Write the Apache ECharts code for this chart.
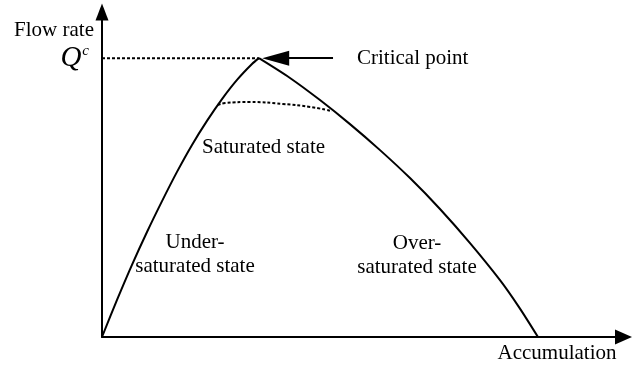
<!DOCTYPE html>
<html>
<head>
<meta charset="utf-8">
<script src="https://cdn.jsdelivr.net/npm/echarts@6/dist/echarts.min.js"></script>
<style>
  html, body { margin: 0; padding: 0; background: #fff; }
  #main { width: 638px; height: 365px; }
</style>
</head>
<body>
<div id="main"></div>
<script>
// flow rate vs accumulation (arbitrary units)
const underX = [0, 2.88, 5.75, 8.63, 11.51, 14.38, 17.26, 20.13, 23.01, 25.89, 28.76, 30.1]
const underY = [0, 11.4, 22.2, 32.3, 41.8, 50.8, 59.1, 66.5, 73.2, 79.1, 84.0, 85.8]
const overX = [30.1, 36.05, 41.8, 47.55, 53.31, 59.06, 64.81, 70.57, 76.32, 79.96, 83.6]
const overY = [85.8, 79.7, 72.9, 65.5, 57.5, 48.9, 39.4, 28.9, 17.5, 9.2, 0]
// dotted "saturated" boundary
const satX = [22.2, 23.6, 28.4, 34.7, 39.9, 44.1]
const satY = [71.4, 72.0, 72.3, 71.7, 70.8, 69.5]
// critical point
const critX = 30.1
const critY = 85.8
const arrowFromX = 44.3

const font = "'Liberation Serif', 'Times New Roman', serif"
const zip = (xs, ys) => xs.map((x, i) => [x, ys[i]])

const chart = echarts.init(document.getElementById('main'))
const option = {
  animation: false,
  grid: { left: 102, right: 14.5, top: 12, bottom: 28 },
  xAxis: {
    type: 'value', min: 0, max: 100,
    name: 'Accumulation',
    nameLocation: 'end',
    nameGap: -7,
    nameTextStyle: { fontFamily: font, fontSize: 21, color: '#000', align: 'right', verticalAlign: 'top', padding: [6, 0, 0, 0] },
    axisLine: { lineStyle: { color: '#000', width: 2 }, symbol: ['none', 'triangle'], symbolSize: [15, 17] },
    axisTick: { show: false },
    axisLabel: { show: false },
    splitLine: { show: false }
  },
  yAxis: {
    type: 'value', min: 0, max: 100,
    name: 'Flow rate',
    nameLocation: 'end',
    nameGap: -18,
    nameTextStyle: { fontFamily: font, fontSize: 21, color: '#000', align: 'right', verticalAlign: 'middle', padding: [0, 8, 0, 0] },
    axisLine: { lineStyle: { color: '#000', width: 2 }, symbol: ['none', 'triangle'], symbolSize: [13, 17] },
    axisTick: { show: false },
    axisLabel: {
      customValues: [critY],
      margin: 13,
      formatter: () => '{q|Q}{c|c}',
      rich: {
        q: { fontFamily: font, fontStyle: 'italic', fontSize: 29, color: '#000' },
        c: { fontFamily: font, fontStyle: 'italic', fontSize: 15, color: '#000', verticalAlign: 'top', padding: [0, 0, 10, 1] }
      }
    },
    splitLine: { show: false }
  },
  series: [
    {
      type: 'line', data: zip(underX, underY), smooth: 0.3, symbol: 'none',
      lineStyle: { color: '#000', width: 2 }
    },
    {
      type: 'line', data: zip(overX, overY), smooth: 0.3, symbol: 'none',
      lineStyle: { color: '#000', width: 2 },
      markLine: {
        silent: true,
        animation: false,
        label: { show: false },
        lineStyle: { color: '#000', width: 2, type: 'solid' },
        symbolSize: [15, 27],
        data: [
          [{ coord: [arrowFromX, critY], symbol: 'none' }, { coord: [critX + 3.2, critY], symbol: 'triangle' }]
        ]
      }
    },
    {
      type: 'line', data: zip(satX, satY), smooth: true, symbol: 'none',
      lineStyle: { color: '#000', width: 2, type: [3, 2] }
    },
    {
      type: 'line', data: [[0, critY], [critX, critY]], symbol: 'none',
      lineStyle: { color: '#000', width: 2, type: [3, 2] }
    }
  ],
  graphic: [
    { type: 'text', x: 357, y: 58, style: { text: 'Critical point', font: '21px ' + font, fill: '#000', verticalAlign: 'middle' } },
    { type: 'text', x: 202, y: 147, style: { text: 'Saturated state', font: '21px ' + font, fill: '#000', verticalAlign: 'middle' } },
    { type: 'text', x: 195, y: 254, style: { text: 'Under-\nsaturated state', font: '21px ' + font, lineHeight: 24, fill: '#000', align: 'center', verticalAlign: 'middle' } },
    { type: 'text', x: 417, y: 255, style: { text: 'Over-\nsaturated state', font: '21px ' + font, lineHeight: 24, fill: '#000', align: 'center', verticalAlign: 'middle' } }
  ]
}
chart.setOption(option)
</script>
</body>
</html>
